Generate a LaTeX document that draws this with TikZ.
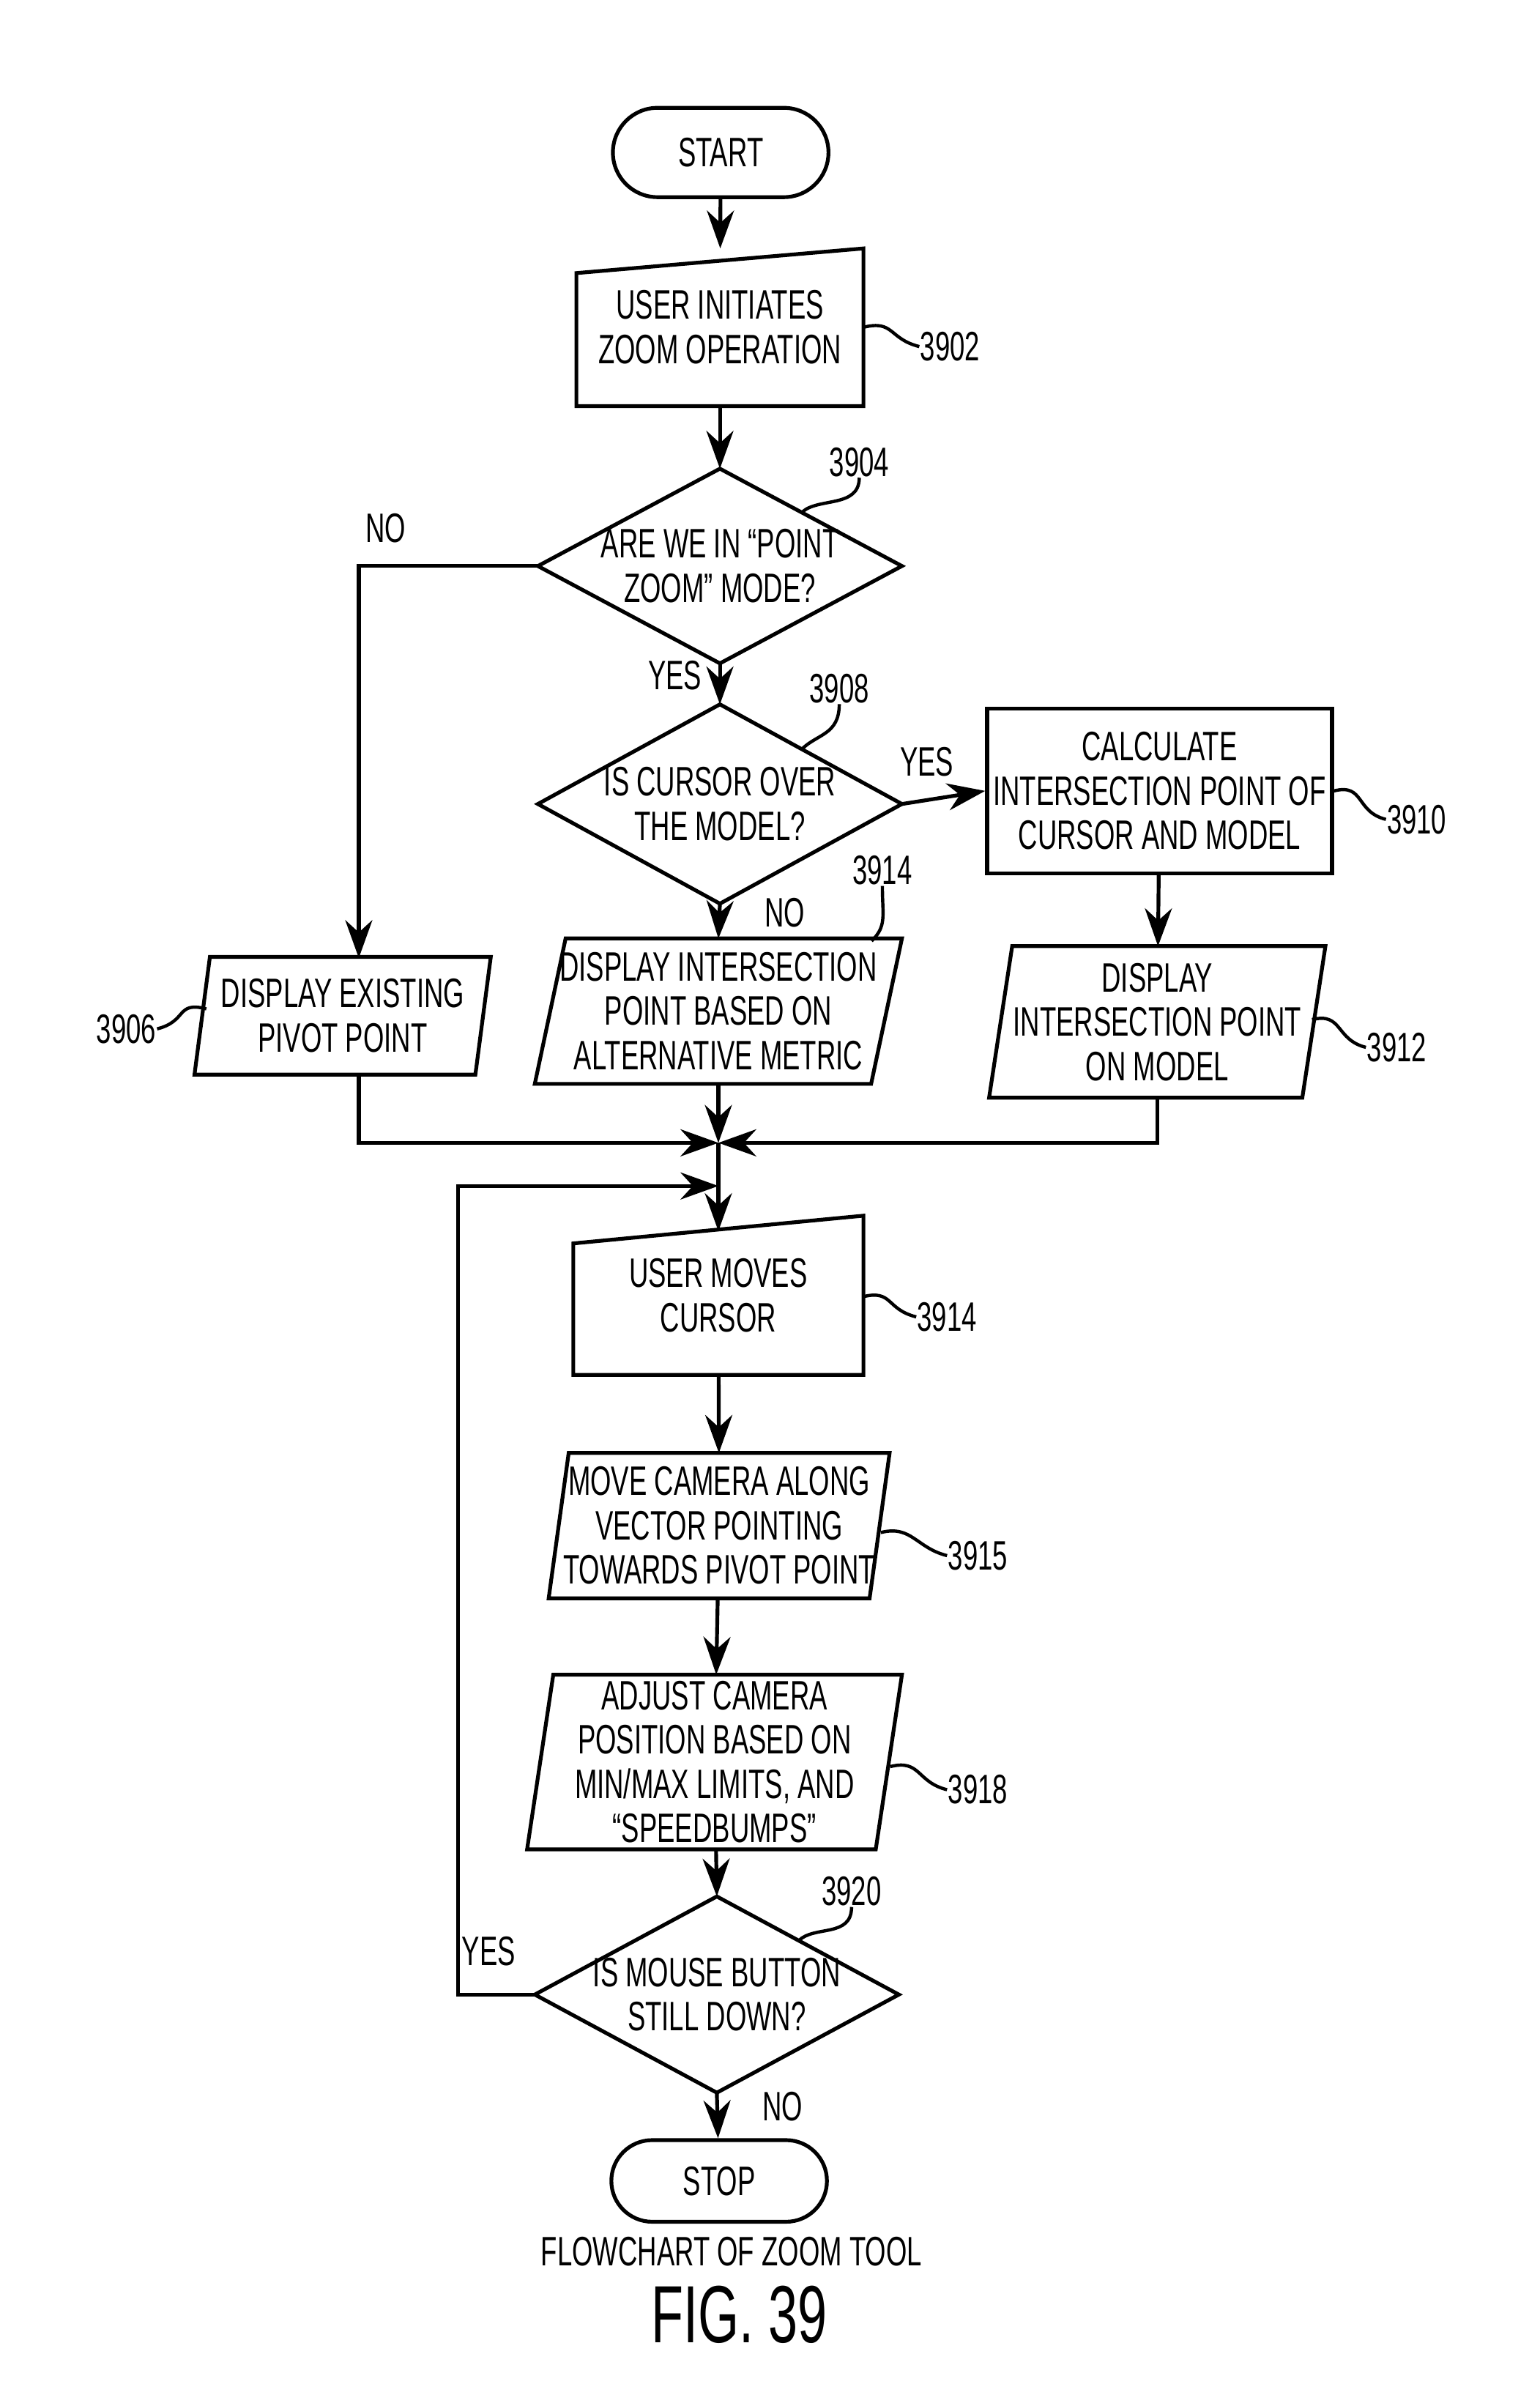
\documentclass[tikz,border=0pt]{standalone}
\usepackage{fontspec}
\setmainfont{Liberation Sans}[FakeStretch=0.65]
\usetikzlibrary{shapes.geometric,shapes.misc,calc,arrows.meta}
\tikzset{
  txt/.style={font=\fontsize{7.6}{8.2}\selectfont, align=center, inner sep=0pt},
  terminal/.style={txt, draw, rounded rectangle, line width=0.7pt, minimum width=1.4cm},
  process/.style={txt, draw, rectangle, line width=0.7pt},
  plain/.style={txt, rectangle},
  flow/.style={-{Stealth[length=7pt,width=5pt]}, line width=0.7pt},
  line/.style={line width=0.7pt},
  lead/.style={line width=0.6pt},
  ref/.style={txt},
}
% parallelogram drawn round a named node
\newcommand{\parabox}[2]{%
  \draw[line] ($(#1.south west)+(-#2/2,0)$) -- ($(#1.north west)+(#2/2,0)$)
    -- ($(#1.north east)+(#2/2,0)$) -- ($(#1.south east)+(-#2/2,0)$) -- cycle;}
% manual input drawn round a named node
\newcommand{\manbox}[2]{%
  \draw[line] (#1.south west) -- ($(#1.north west)+(0,-#2)$)
    -- (#1.north east) -- (#1.south east) -- cycle;}
% decision drawn round a named node
\newcommand{\decbox}[1]{%
  \draw[line] (#1.north) -- (#1.east) -- (#1.south) -- (#1.west) -- cycle;}
\begin{document}
\begin{tikzpicture}
\useasboundingbox (0,0) rectangle (10,-15.55);

\node[terminal, minimum height=0.58cm] (start) at (4.68,-0.99) {START};
\node[plain, minimum width=1.85cm, minimum height=1.01cm] (s3902) at (4.675,-2.125) {USER INITIATES\\ZOOM OPERATION};
\manbox{s3902}{0.16}
\node[plain, minimum width=2.35cm, minimum height=1.25cm] (d3904) at (4.675,-3.675) {ARE WE IN “POINT\\ZOOM” MODE?};
\decbox{d3904}
\node[plain, minimum width=2.35cm, minimum height=1.28cm] (d3908) at (4.675,-5.22) {IS CURSOR OVER\\THE MODEL?};
\decbox{d3908}
\node[process, minimum width=2.24cm, minimum height=1.07cm] (s3910) at (7.53,-5.135) {CALCULATE\\INTERSECTION POINT OF\\CURSOR AND MODEL};
\node[plain, minimum width=1.81cm, minimum height=0.75cm] (s3906) at (2.225,-6.595) {DISPLAY EXISTING\\PIVOT POINT};
\parabox{s3906}{0.1}
\node[plain, minimum width=2.17cm, minimum height=0.93cm] (s3914a) at (4.665,-6.565) {DISPLAY INTERSECTION\\POINT BASED ON\\ALTERNATIVE METRIC};
\parabox{s3914a}{0.2}
\node[plain, minimum width=2.02cm, minimum height=0.97cm] (s3912) at (7.515,-6.635) {DISPLAY\\INTERSECTION POINT\\ON MODEL};
\parabox{s3912}{0.15}
\coordinate (c3906) at (2.33,-6.22);
\coordinate (b3906) at (2.33,-6.97);
\coordinate (m) at (4.665,-7.42);
\coordinate (l) at (4.665,-7.70);
\node[plain, minimum width=1.87cm, minimum height=1.02cm] (s3914b) at (4.665,-8.41) {USER MOVES\\CURSOR};
\manbox{s3914b}{0.18}
\node[plain, minimum width=2.07cm, minimum height=0.93cm] (s3915) at (4.67,-9.905) {MOVE CAMERA ALONG\\VECTOR POINTING\\TOWARDS PIVOT POINT};
\parabox{s3915}{0.13}
\node[plain, minimum width=2.25cm, minimum height=1.12cm] (s3918) at (4.64,-11.44) {ADJUST CAMERA\\POSITION BASED ON\\MIN/MAX LIMITS, AND\\“SPEEDBUMPS”};
\parabox{s3918}{0.17}
\node[plain, minimum width=2.35cm, minimum height=1.26cm] (d3920) at (4.655,-12.95) {IS MOUSE BUTTON\\STILL DOWN?};
\decbox{d3920}
\node[terminal, minimum height=0.53cm] (stop) at (4.67,-14.16) {STOP};

% connectors
\draw[flow] (start) -- (s3902);
\draw[flow] (s3902) -- (d3904.north);
\draw[flow] (d3904.south) -- node[txt, pos=0.3, left=3pt] {YES} (d3908.north);
\draw[flow] (d3904.west) -- node[txt, pos=0.85, above=4pt] {NO} (c3906 |- d3904.west) -- (c3906);
\draw[flow] (d3908.east) -- node[txt, above=4pt, pos=0.3] {YES} (s3910.west);
\draw[flow] (d3908.south) -- node[txt, right=8pt, pos=0.25] {NO} (s3914a.north);
\draw[flow] (s3910) -- (s3912);
\draw[flow] (b3906) |- (m);
\draw[flow] (s3912.south) |- (m);
\draw[flow] (s3914a.south) -- (m);
\draw[line] (m) -- (l);
\draw[flow] (l) -- ($(s3914b.north)+(0,-0.1)$);
\draw[flow] (s3914b) -- (s3915);
\draw[flow] (s3915) -- (s3918);
\draw[flow] (s3918) -- (d3920.north);
\draw[flow] (d3920.west) -- node[txt, above=5pt, pos=0.6] {YES} ++(-0.5,0) |- (l);
\draw[flow] (d3920.south) -- node[txt, right=8pt, pos=0.3] {NO} (stop);

% reference numerals
\node[ref] (r3902) at (6.17,-2.25) {3902};
\draw[lead] (s3902.east) .. controls +(0.2,0.05) and +(-0.2,0.05) .. (r3902.west);
\node[ref] (r3904) at (5.58,-3.00) {3904};
\draw[lead] (r3904.south) .. controls +(0,-0.2) and +(0.1,0.1) .. ($(d3904.north)!0.45!(d3904.east)$);
\node[ref] (r3908) at (5.45,-4.47) {3908};
\draw[lead] (r3908.south) .. controls +(0,-0.2) and +(0.1,0.1) .. ($(d3908.north)!0.45!(d3908.east)$);
\node[ref] (r3910) at (9.20,-5.32) {3910};
\draw[lead] (s3910.east) .. controls +(0.2,0.05) and +(-0.2,0.05) .. (r3910.west);
\node[ref] (r3914a) at (5.73,-5.65) {3914};
\draw[lead] (r3914a.south) .. controls +(0,-0.2) and +(0.1,0.1) .. (5.66,-6.11);
\node[ref] (r3906) at (0.82,-6.68) {3906};
\draw[lead] (r3906.east) .. controls +(0.2,0.05) and +(-0.2,0.05) .. (1.34,-6.55);
\node[ref] (r3912) at (9.07,-6.80) {3912};
\draw[lead] (8.52,-6.62) .. controls +(0.2,0.05) and +(-0.2,0.05) .. (r3912.west);
\node[ref] (r3914b) at (6.15,-8.55) {3914};
\draw[lead] (5.60,-8.42) .. controls +(0.2,0.05) and +(-0.2,0.05) .. (r3914b.west);
\node[ref] (r3915) at (6.35,-10.10) {3915};
\draw[lead] (5.72,-9.95) .. controls +(0.2,0.05) and +(-0.2,0.05) .. (r3915.west);
\node[ref] (r3918) at (6.35,-11.62) {3918};
\draw[lead] (5.78,-11.47) .. controls +(0.2,0.05) and +(-0.2,0.05) .. (r3918.west);
\node[ref] (r3920) at (5.53,-12.28) {3920};
\draw[lead] (r3920.south) .. controls +(0,-0.2) and +(0.1,0.1) .. ($(d3920.north)!0.45!(d3920.east)$);

% caption
\node[txt] (cap) at (4.75,-14.62) {FLOWCHART OF ZOOM TOOL};
\node[txt, font=\fontsize{15}{17}\selectfont] (fig) at (4.80,-15.03) {FIG. 39};
\end{tikzpicture}
\end{document}
